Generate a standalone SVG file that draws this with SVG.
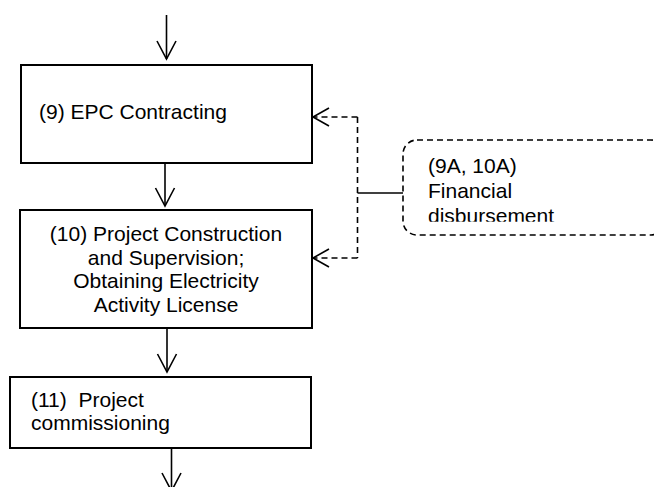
<svg xmlns="http://www.w3.org/2000/svg" width="654" height="487" viewBox="0 0 654 487">
  <style>
    .box { fill: #ffffff; stroke: #000000; stroke-width: 2; }
    .note { fill: none; stroke: #000000; stroke-width: 1.6; stroke-dasharray: 6 4; }
    .flow { fill: none; stroke: #000000; stroke-width: 1.6; marker-end: url(#open); }
    .dash { fill: none; stroke: #000000; stroke-width: 1.6; stroke-dasharray: 6 4; }
    .link { fill: none; stroke: #000000; stroke-width: 1.6; }
    text { font-family: "Liberation Sans", Arial, sans-serif; font-size: 21px; fill: #000000; white-space: pre; }
  </style>
  <defs>
    <marker id="open" markerUnits="userSpaceOnUse" markerWidth="22" markerHeight="22" refX="18" refY="9.5" orient="auto" overflow="visible">
      <path d="M0,0 L18,9.5 L0,19" fill="none" stroke="#000000" stroke-width="1.6"/>
    </marker>
    <marker id="openSm" markerUnits="userSpaceOnUse" markerWidth="20" markerHeight="20" refX="16" refY="9" orient="auto" overflow="visible">
      <path d="M0,0 L16,9 L0,18" fill="none" stroke="#000000" stroke-width="1.6"/>
    </marker>
    <!-- the note's last line is cut off by its frame -->
    <clipPath id="noteClip">
      <rect x="403" y="140" width="260" height="81.8"/>
    </clipPath>
  </defs>

  <!-- connectors -->
  <g id="connectors">
    <line class="flow" x1="166.5" y1="15" x2="166.5" y2="59"/>
    <line class="flow" x1="165" y1="163" x2="165" y2="206"/>
    <line class="flow" x1="167" y1="328" x2="167" y2="372"/>
    <line class="flow" x1="171.5" y1="448" x2="171.5" y2="491"/>
    <!-- funding feedback to steps 9 and 10 -->
    <path class="dash" d="M357.5,117 V258"/>
    <path class="dash" d="M357.5,117 H313" marker-end="url(#openSm)"/>
    <path class="dash" d="M357.5,258 H313" marker-end="url(#openSm)"/>
    <line class="link" x1="357.5" y1="193" x2="403" y2="193"/>
  </g>

  <g id="step9">
    <rect class="box" x="21" y="65" width="291" height="98"/>
    <text x="39" y="119">(9) EPC Contracting</text>
  </g>

  <g id="step10">
    <rect class="box" x="20" y="210" width="292" height="118"/>
    <text x="166" y="241" text-anchor="middle">(10) Project Construction</text>
    <text x="166" y="265" text-anchor="middle">and Supervision;</text>
    <text x="166" y="288" text-anchor="middle">Obtaining Electricity</text>
    <text x="166" y="312" text-anchor="middle">Activity License</text>
  </g>

  <g id="step11">
    <rect class="box" x="10" y="377" width="301" height="71"/>
    <text x="31" y="407">(11)  Project</text>
    <text x="31" y="430">commissioning</text>
  </g>

  <g id="disbursement">
    <rect class="note" x="403" y="140" width="262" height="95" rx="14" ry="14"/>
    <g clip-path="url(#noteClip)">
      <text x="428" y="173">(9A, 10A)</text>
      <text x="428" y="198">Financial</text>
      <text x="428" y="223">disbursement</text>
    </g>
  </g>
</svg>
